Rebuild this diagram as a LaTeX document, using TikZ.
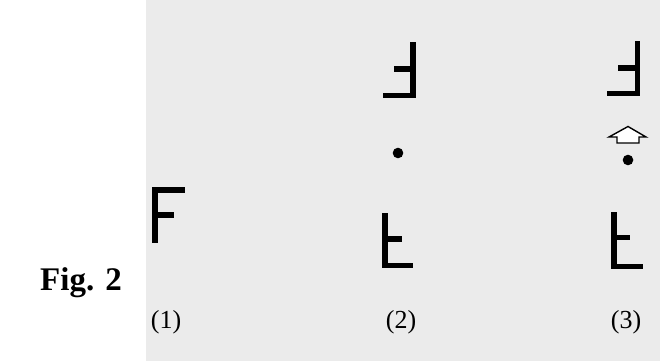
\documentclass[tikz,border=0pt]{standalone}
\usepackage{fontspec}
\setmainfont{Liberation Serif}
\begin{document}
\begin{tikzpicture}[x=1pt,y=-1pt,
  ink/.style={fill=black,draw=none},
  lbl/.style={font=\fontsize{26}{26}\selectfont,anchor=base,inner sep=0pt},
  figlbl/.style={font=\fontsize{33}{33}\selectfont\bfseries,anchor=base west,inner sep=0pt},
  dotmark/.style={fill=black,draw=none},
  hollowarrow/.style={draw=black,line width=1.4pt,fill=white,line join=miter}]
\useasboundingbox (0,0) rectangle (660,361);
\fill[white] (0,0) rectangle (660,361);
\fill[black!8] (146,0) rectangle (660,361);
% (1) F
\fill[ink] (152,187) rectangle (158,243);
\fill[ink] (152,187) rectangle (185,193);
\fill[ink] (152,212) rectangle (174,218);
% (2) top: F rotated 180
\fill[ink] (410,42) rectangle (415.5,98);
\fill[ink] (394,66) rectangle (415.5,72);
\fill[ink] (383,92.5) rectangle (415.5,98);
% (2) dot
\fill[dotmark] (398,153) circle (5.3);
% (2) bottom: F flipped
\fill[ink] (382,213) rectangle (387.5,268);
\fill[ink] (382,236) rectangle (402,242);
\fill[ink] (382,262.5) rectangle (413,268);
% (3) top
\fill[ink] (634.5,41) rectangle (640,96);
\fill[ink] (618,65) rectangle (640,70.5);
\fill[ink] (607,90.5) rectangle (640,96);
% (3) hollow arrow
\draw[hollowarrow] (628,126.5) -- (646,137) -- (639,137) -- (639,143) -- (617,143) -- (617,137) -- (609,137) -- cycle;
% (3) dot
\fill[dotmark] (628,160) circle (5.3);
% (3) bottom
\fill[ink] (611,212) rectangle (616.5,269);
\fill[ink] (611,234.5) rectangle (630,240);
\fill[ink] (611,263.5) rectangle (643,269);
% labels
\node[lbl] (l1) at (166,328) {(1)};
\node[lbl] (l2) at (401,328) {(2)};
\node[lbl] (l3) at (626,328) {(3)};
\node[figlbl] (fig) at (40,290) {Fig. 2};
\end{tikzpicture}
\end{document}
